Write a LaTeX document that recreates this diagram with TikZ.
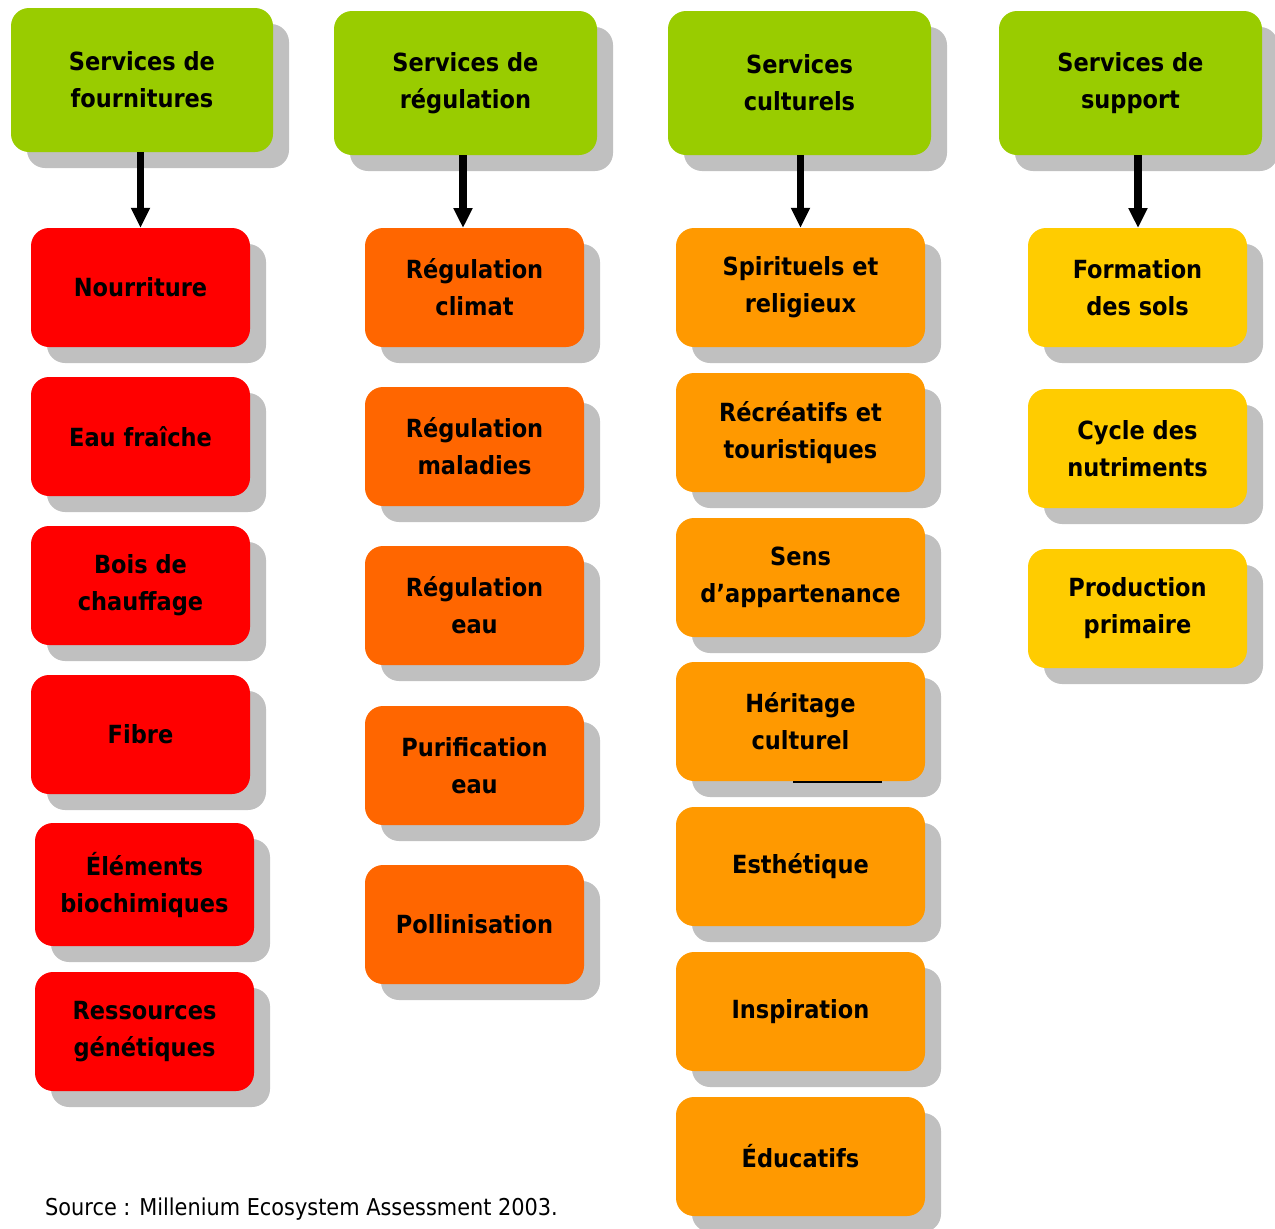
\documentclass[tikz,border=0pt]{standalone}
\usepackage{fontspec}
\setmainfont{DejaVu Sans Condensed}
\usetikzlibrary{shadows,arrows.meta}
\definecolor{hgreen}{HTML}{99CC00}
\definecolor{cred}{HTML}{FF0000}
\definecolor{corange}{HTML}{FF6600}
\definecolor{camber}{HTML}{FF9900}
\definecolor{cyellow}{HTML}{FFCC00}
\definecolor{shadowgray}{HTML}{C0C0C0}
\newcommand\mkbox[7]{%
  \pgfmathsetmacro\bxcx{(#3+#5)/2}%
  \pgfmathsetmacro\bxcy{-(#4+#6)/2}%
  \pgfmathsetmacro\bxw{#5-#3}%
  \pgfmathsetmacro\bxh{#6-#4}%
  \node[svcbox,fill=#2,minimum width=\bxw pt,minimum height=\bxh pt] (#1) at (\bxcx pt,\bxcy pt) {#7};}
\begin{document}
\begin{tikzpicture}[
  svcbox/.style={rounded corners=18pt,inner sep=0pt,align=center,
    font=\bfseries\fontsize{25}{37}\selectfont,
    drop shadow={shadow xshift=16pt,shadow yshift=-16pt,fill=shadowgray,opacity=1}},
  bigarrow/.style={line width=7.5pt,-{Triangle[width=18pt,length=20pt]}}
]
\useasboundingbox (0pt,0pt) rectangle (1275pt,-1229pt);
% headers
\mkbox{h1}{hgreen}{11}{8}{273}{152}{Services de\\fournitures}
\mkbox{h2}{hgreen}{334}{11}{597}{155}{Services de\\régulation}
\mkbox{h3}{hgreen}{668}{11}{931}{155}{Services\\culturels}
\mkbox{h4}{hgreen}{999}{11}{1262}{155}{Services de\\support}
% column 1
\mkbox{a1}{cred}{31}{228}{250}{347}{Nourriture}
\mkbox{a2}{cred}{31}{377}{250}{496}{Eau fraîche}
\mkbox{a3}{cred}{31}{526}{250}{645}{Bois de\\chauffage}
\mkbox{a4}{cred}{31}{675}{250}{794}{Fibre}
\mkbox{a5}{cred}{35}{823}{254}{946}{Éléments\\biochimiques}
\mkbox{a6}{cred}{35}{972}{254}{1091}{Ressources\\génétiques}
% column 2
\mkbox{b1}{corange}{365}{228}{584}{347}{Régulation\\climat}
\mkbox{b2}{corange}{365}{387}{584}{506}{Régulation\\maladies}
\mkbox{b3}{corange}{365}{546}{584}{665}{Régulation\\eau}
\mkbox{b4}{corange}{365}{706}{584}{825}{Purification\\eau}
\mkbox{b5}{corange}{365}{865}{584}{984}{Pollinisation}
% column 3
\mkbox{c1}{camber}{676}{228}{925}{347}{Spirituels et\\religieux}
\mkbox{c2}{camber}{676}{373}{925}{492}{Récréatifs et\\touristiques}
\mkbox{c3}{camber}{676}{518}{925}{637}{Sens\\d’appartenance}
\mkbox{c4}{camber}{676}{662}{925}{781}{Héritage\\culturel}
\mkbox{c5}{camber}{676}{807}{925}{926}{Esthétique}
\mkbox{c6}{camber}{676}{952}{925}{1071}{Inspiration}
\mkbox{c7}{camber}{676}{1097}{925}{1216}{Éducatifs}
% column 4
\mkbox{d1}{cyellow}{1028}{228}{1247}{347}{Formation\\des sols}
\mkbox{d2}{cyellow}{1028}{389}{1247}{508}{Cycle des\\nutriments}
\mkbox{d3}{cyellow}{1028}{549}{1247}{668}{Production\\primaire}
% arrows
\draw[bigarrow] (h1.south -| a1.north) -- (a1.north);
\draw[bigarrow] (463pt,-155pt) -- (463pt,-228pt);
\draw[bigarrow] (h3.south -| c1.north) -- (c1.north);
\draw[bigarrow] (1138pt,-155pt) -- (1138pt,-228pt);
% stray line under Héritage culturel
\coordinate (s1) at (793pt,-782pt);
\coordinate (s2) at (882pt,-782pt);
\draw[line width=2pt] (s1) -- (s2);
% source
\node[anchor=base west,inner sep=0pt,font=\fontsize{23.2}{27}\selectfont] (src) at (45pt,-1215pt) {Source : Millenium Ecosystem Assessment 2003.};
\end{tikzpicture}
\end{document}
